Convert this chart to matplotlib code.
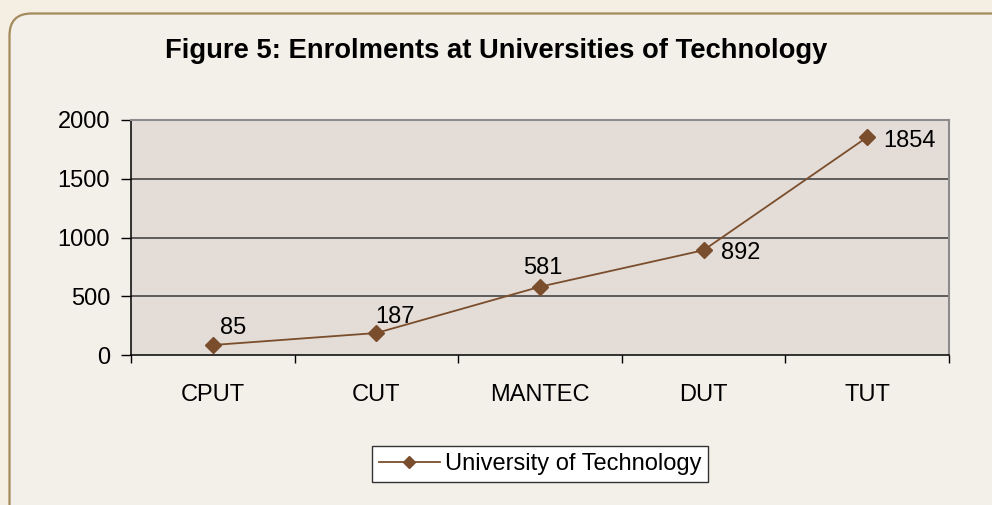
import matplotlib
matplotlib.use("Agg")
import matplotlib.pyplot as plt
from matplotlib.patches import FancyBboxPatch
from matplotlib.transforms import IdentityTransform
import numpy as np

categories = ["CPUT", "CUT", "MANTEC", "DUT", "TUT"]
enrolments = [85, 187, 581, 892, 1854]
y_ticks = [0, 500, 1000, 1500, 2000]
series_name = "University of Technology"
title = "Figure 5: Enrolments at Universities of Technology"

# label offsets in pixels (dx, dy) and horizontal alignment
label_offsets = [(7, 17, "left"), (-1, 16, "left"), (3, 19, "center"), (17, -3, "left"), (16, -4, "left")]

plt.rcParams['font.family'] = ['Liberation Sans', 'DejaVu Sans']

W, H = 992, 505
fig = plt.figure(figsize=(W / 100, H / 100), dpi=100)
fig.patch.set_facecolor("#F4EEE3")

panel = FancyBboxPatch((9.5, -40), 1100, H - 13.5 + 40,
                       boxstyle="round,pad=0,rounding_size=22",
                       transform=IdentityTransform(), facecolor="#F3F0EA",
                       edgecolor="#A38B5C", linewidth=1.6, zorder=-10)
fig.patches.append(panel)

ax = fig.add_axes([131 / W, 1 - 355 / H, (949 - 131) / W, (355 - 120) / H])
ax.set_zorder(5)
ax.set_facecolor("#E4DCD6")
x = np.arange(len(categories))
color = "#7A4E2C"
ax.plot(x, enrolments, color=color, linewidth=1.3, marker="D", markersize=8,
        markerfacecolor=color, markeredgecolor=color, label=series_name, zorder=3)

FS = 17
ax.set_xlim(-0.5, len(categories) - 0.5)
ax.set_ylim(0, 2000)
ax.set_yticks(y_ticks)
ax.set_yticklabels([str(v) for v in y_ticks], fontsize=FS)
ax.set_xticks(x)
ax.set_xticklabels(categories, fontsize=FS)
ax.tick_params(axis="x", length=0, pad=21)
ax.set_xticks(np.arange(len(categories) + 1) - 0.5, minor=True)
ax.tick_params(axis="x", which="minor", length=6, width=1, color="black", direction="out")
ax.tick_params(axis="y", length=7, width=1, color="black", direction="out", pad=8)

for v in y_ticks[1:-1]:
    ax.axhline(v, color="#3A3A3A", linewidth=1.1, zorder=1)

for s in ["left", "bottom"]:
    ax.spines[s].set_color("black")
    ax.spines[s].set_linewidth(1.1)
for s in ["top", "right"]:
    ax.spines[s].set_color("#8C8C8C")
    ax.spines[s].set_linewidth(1.5)

for xi, yi, (dx, dy, ha) in zip(x, enrolments, label_offsets):
    ax.annotate(str(yi), (xi, yi), xytext=(dx * 0.72, dy * 0.72), textcoords="offset points",
                ha=ha, va="center", fontsize=FS, color="black", zorder=4)

fig.text(496 / W, 1 - 51 / H, title, ha="center", va="center", fontsize=19.7, fontweight="bold")

leg = ax.legend(loc="center", bbox_to_anchor=(540 / W, 1 - 464 / H), bbox_transform=fig.transFigure,
                fontsize=FS, frameon=True, fancybox=False, shadow=False, handlelength=2.6,
                handletextpad=0.2, borderpad=0.3, markerscale=0.8)
frame = leg.get_frame()
frame.set_facecolor("white")
frame.set_edgecolor("#333333")
frame.set_linewidth(1.0)
frame.set_alpha(1)

fig.savefig("out.png", dpi=100, facecolor=fig.get_facecolor())
